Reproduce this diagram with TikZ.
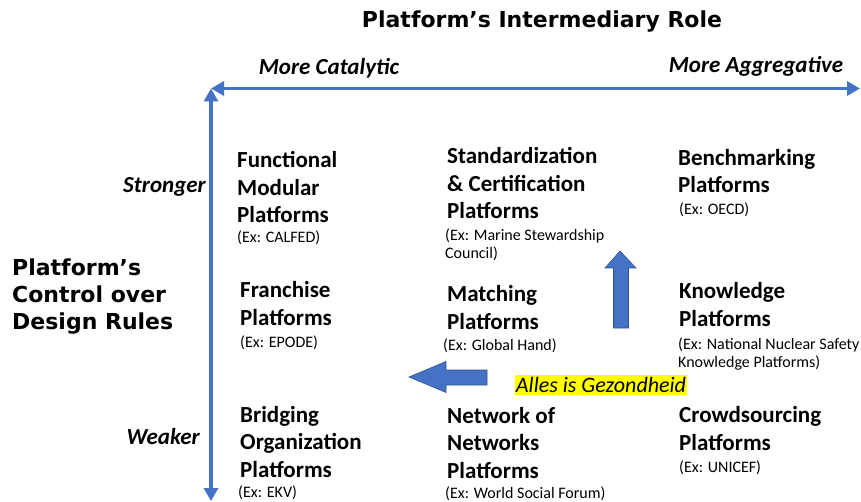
\documentclass[tikz,border=0pt]{standalone}
\usepackage{fontspec}
\setmainfont{Carlito}
\newfontfamily\heavyfont{DejaVu Sans}
\usetikzlibrary{arrows.meta}
\definecolor{axisblue}{RGB}{68,114,196}
\definecolor{edgeblue}{RGB}{47,82,143}
\definecolor{hiyellow}{RGB}{255,255,0}
\begin{document}
\begin{tikzpicture}[x=1pt,y=-1pt,
  heading/.style={inner sep=0, font=\heavyfont\bfseries\fontsize{22}{27}\selectfont, align=left},
  axlabel/.style={inner sep=0, font=\bfseries\itshape\fontsize{23}{26}\selectfont},
  cell/.style={anchor=base west, inner sep=0, align=left, font=\bfseries\fontsize{23}{27.5}\selectfont},
  exline/.style={anchor=base west, inner sep=0, align=left, font=\fontsize{16}{18}\selectfont},
  axis/.style={axisblue, line width=3.5pt, {Triangle[length=13pt,width=14pt]}-{Triangle[length=13pt,width=14pt]}},
  blockarrow/.style={fill=axisblue, draw=edgeblue, line width=0.6pt, line join=miter}]
\useasboundingbox (0,0) rectangle (861,502);

% titles
\node[heading] (title) at (542,22) {Platform’s Intermediary Role};
\node[heading, anchor=west] (ytitle) at (12,297) {Platform’s\\Control over\\Design Rules};

% axes
\coordinate (origin) at (211,88.5);
\coordinate (xend) at (860,88.5);
\coordinate (yend) at (211,501);
\draw[axis] (origin) -- (xend);
\draw[axis] (origin) -- (yend);

\node[axlabel] (catal) at (329,68) {More Catalytic};
\node[axlabel] (aggr) at (756,66) {More Aggregative};
\node[axlabel, anchor=east] (strong) at (206,187) {Stronger};
\node[axlabel, anchor=east] (weak) at (200,437) {Weaker};

% row 1 (anchor = baseline of last line)
\node[cell] (fm) at (237,223) {Functional\\Modular\\Platforms};
\node[exline] (fmx) at (237,243) {(Ex: CALFED)};
\node[cell] (sc) at (447,219) {Standardization\\\& Certification\\Platforms};
\node[exline] (scx) at (445,259) {(Ex: Marine Stewardship\\Council)};
\node[cell] (bm) at (678,193) {Benchmarking\\Platforms};
\node[exline] (bmx) at (679,215) {(Ex: OECD)};

% row 2
\node[cell] (fr) at (240,325) {Franchise\\Platforms};
\node[exline] (frx) at (240,347) {(Ex: EPODE)};
\node[cell] (ma) at (447,329) {Matching\\Platforms};
\node[exline] (max) at (443,350) {(Ex: Global Hand)};
\node[cell] (kn) at (679,326) {Knowledge\\Platforms};
\node[exline] (knx) at (678,367) {(Ex: National Nuclear Safety\\Knowledge Platforms)};

% row 3
\node[cell] (br) at (240,477) {Bridging\\Organization\\Platforms};
\node[exline] (brx) at (238,497) {(Ex: EKV)};
\node[cell] (nn) at (447,478) {Network of\\Networks\\Platforms};
\node[exline] (nnx) at (445,498) {(Ex: World Social Forum)};
\node[cell] (cs) at (679,450) {Crowdsourcing\\Platforms};
\node[exline] (csx) at (679,472) {(Ex: UNICEF)};

% highlight
\node[fill=hiyellow, inner xsep=1pt, inner ysep=2pt, font=\itshape\fontsize{22}{26}\selectfont] (alles) at (601,385) {Alles is Gezondheid};

% block arrows
\draw[blockarrow] (620,251) -- (636,268) -- (628.5,268) -- (628.5,328) -- (613.5,328) -- (613.5,268) -- (605,268) -- cycle;
\draw[blockarrow] (409,377) -- (446,361.5) -- (446,370) -- (487,370) -- (487,385) -- (446,385) -- (446,392.5) -- cycle;
\end{tikzpicture}
\end{document}
